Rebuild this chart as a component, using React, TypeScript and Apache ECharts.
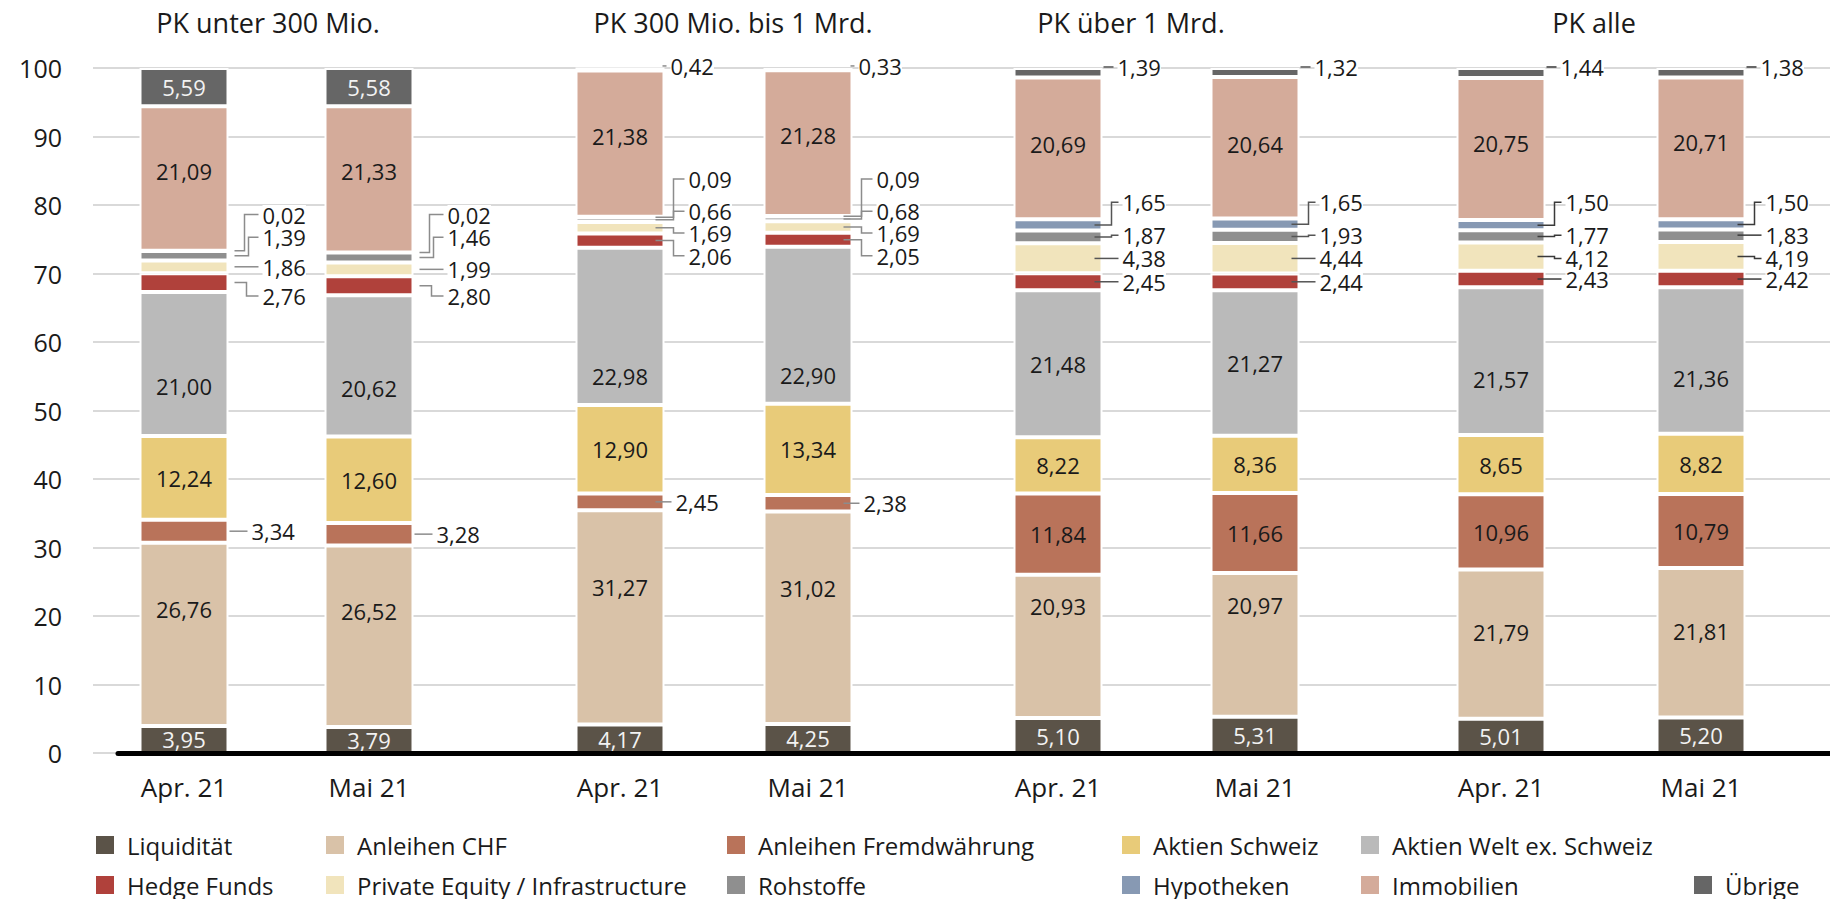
import React, { useEffect, useRef } from 'react';
import * as echarts from 'echarts';

// ---------- data ----------
const groupTitles = ['PK unter 300 Mio.', 'PK 300 Mio. bis 1 Mrd.', 'PK über 1 Mrd.', 'PK alle'];
const months = ['Apr. 21', 'Mai 21'];
const assetClasses = [
  'Liquidität',
  'Anleihen CHF',
  'Anleihen Fremdwährung',
  'Aktien Schweiz',
  'Aktien Welt ex. Schweiz',
  'Hedge Funds',
  'Private Equity / Infrastructure',
  'Rohstoffe',
  'Hypotheken',
  'Immobilien',
  'Übrige',
];
// bar order: group1 Apr, Mai, group2 Apr, Mai, group3 Apr, Mai, group4 Apr, Mai
const liquiditaet = [3.95, 3.79, 4.17, 4.25, 5.1, 5.31, 5.01, 5.2];
const anleihenChf = [26.76, 26.52, 31.27, 31.02, 20.93, 20.97, 21.79, 21.81];
const anleihenFw = [3.34, 3.28, 2.45, 2.38, 11.84, 11.66, 10.96, 10.79];
const aktienSchweiz = [12.24, 12.6, 12.9, 13.34, 8.22, 8.36, 8.65, 8.82];
const aktienWelt = [21.0, 20.62, 22.98, 22.9, 21.48, 21.27, 21.57, 21.36];
const hedgeFunds = [2.76, 2.8, 2.06, 2.05, 2.45, 2.44, 2.43, 2.42];
const privateEquity = [1.86, 1.99, 1.69, 1.69, 4.38, 4.44, 4.12, 4.19];
const rohstoffe = [1.39, 1.46, 0.66, 0.68, 1.87, 1.93, 1.77, 1.83];
const hypotheken = [0.02, 0.02, 0.09, 0.09, 1.65, 1.65, 1.5, 1.5];
const immobilien = [21.09, 21.33, 21.38, 21.28, 20.69, 20.64, 20.75, 20.71];
const uebrige = [5.59, 5.58, 0.42, 0.33, 1.39, 1.32, 1.44, 1.38];
const yMin = 0;
const yMax = 100;
const yInterval = 10;

const seriesValues = [
  liquiditaet, anleihenChf, anleihenFw, aktienSchweiz, aktienWelt,
  hedgeFunds, privateEquity, rohstoffe, hypotheken, immobilien, uebrige,
];

// ---------- styles / layout ----------
const colors = [
  '#5b5348', '#d9c2a8', '#b9735a', '#e8cb79', '#bababa',
  '#b0413b', '#f1e4bc', '#8f8f8f', '#8799b3', '#d4ab9a', '#666666',
];
const labelColors = [
  '#f2f2f2', '#1a1a1a', '#1a1a1a', '#1a1a1a', '#1a1a1a',
  '#1a1a1a', '#1a1a1a', '#1a1a1a', '#1a1a1a', '#1a1a1a', '#f2f2f2',
];
const FONT = '"Open Sans", "Noto Sans", sans-serif';
const TEXT = '#1a1a1a';
const LABEL_SIZE = 22;
const BAR_W = 89;
const GRID_TOP = 68;
const GRID_BOTTOM = 146;
const groupGrids = [
  { left: 91.5, width: 370 },
  { left: 526, width: 376 },
  { left: 959.5, width: 394 },
  { left: 1401, width: 400 },
];
const titleCenters = [268, 733, 1131, 1594];
// vertical pixel offsets for inside labels (per asset class, per bar)
const insideOffsets: Record<number, number[]> = {
  1: [-25, -25, -30, -30, -40, -40, -12, -12],
  4: [22, 22, 50, 50, 0, 0, 18, 18],
  9: [-8, -8, -8, -8, -4, -4, -6, -6],
};
// callout placement: a = asset index, v = label position (axis value, null = at segment middle),
// tx = text offset from bar edge, ex = elbow offset, flat = horizontal line at label height
type Callout = { a: number; v: number | null; tx: number; ex?: number; start?: number; flat?: boolean };
const callouts: { start: number; color: string; items: Callout[] }[] = [
  {
    start: 6, color: '#8c8c8c', items: [
      { a: 2, v: null, tx: 23, start: 1 },
      { a: 5, v: 66.7, tx: 34, ex: 18 },
      { a: 6, v: null, tx: 34 },
      { a: 7, v: 75.3, tx: 34, ex: 20 },
      { a: 8, v: 78.6, tx: 34, ex: 16 },
    ],
  },
  {
    start: -9, color: '#8c8c8c', items: [
      { a: 2, v: null, tx: 11 },
      { a: 5, v: 72.6, tx: 24, ex: 9 },
      { a: 6, v: 75.9, tx: 24, ex: 9 },
      { a: 7, v: 79.1, tx: 24, ex: 9 },
      { a: 8, v: 83.8, tx: 24, ex: 9 },
      { a: 10, v: 100.3, tx: 6, start: -2, flat: true },
    ],
  },
  {
    start: -8, color: '#555555', items: [
      { a: 5, v: null, tx: 20 },
      { a: 6, v: 72.2, tx: 20, ex: 9 },
      { a: 7, v: 75.6, tx: 20, ex: 9 },
      { a: 8, v: 80.4, tx: 20, ex: 9 },
      { a: 10, v: 100.15, tx: 15, start: 1, flat: true },
    ],
  },
  {
    start: -8, color: '#3a3a3a', items: [
      { a: 5, v: null, tx: 20 },
      { a: 6, v: 72.2, tx: 20, ex: 9 },
      { a: 7, v: 75.6, tx: 20, ex: 9 },
      { a: 8, v: 80.4, tx: 20, ex: 9 },
      { a: 10, v: 100.15, tx: 15, start: 1, flat: true },
    ],
  },
];
const legendColumns = [
  { left: 96, items: [0, 5] },
  { left: 326, items: [1, 6] },
  { left: 727, items: [2, 7] },
  { left: 1122, items: [3, 8] },
  { left: 1361, items: [4, 9] },
  { left: 1694, items: [10], row2: true },
];

const fmt = (v: number) => v.toFixed(2).replace('.', ',');

function buildOption() {
  const grids: any[] = [];
  const xAxes: any[] = [];
  const yAxes: any[] = [];
  const series: any[] = [];

  groupGrids.forEach((g, gi) => {
    grids.push({ left: g.left, width: g.width, top: GRID_TOP, bottom: GRID_BOTTOM });
    xAxes.push({
      type: 'category', gridIndex: gi, data: months,
      axisLine: { show: false }, axisTick: { show: false },
      axisLabel: { fontSize: 26, fontFamily: FONT, color: TEXT, margin: 21 },
    });
    yAxes.push({ type: 'value', gridIndex: gi, min: yMin, max: yMax, interval: yInterval, show: false });

    const outsideSet = new Set(callouts[gi].items.map((c) => c.a));
    seriesValues.forEach((vals, a) => {
      const inside = !outsideSet.has(a);
      series.push({
        type: 'bar', name: assetClasses[a], stack: 'g' + gi,
        xAxisIndex: gi, yAxisIndex: gi, barWidth: BAR_W, z: 2,
        itemStyle: { color: colors[a], borderColor: '#ffffff', borderWidth: 2 },
        label: {
          show: inside, position: 'inside', color: labelColors[a],
          fontSize: LABEL_SIZE, fontFamily: FONT,
          formatter: (p: any) => fmt(p.value),
        },
        emphasis: { disabled: true },
        data: vals.slice(gi * 2, gi * 2 + 2).map((v, i) => ({
          value: v,
          label: { offset: [0, insideOffsets[a] ? insideOffsets[a][gi * 2 + i] : 0] },
        })),
      });
    });

    // callout labels with elbow connectors
    const meta: any[] = [];
    const data: any[] = [];
    for (let i = 0; i < 2; i++) {
      const b = gi * 2 + i;
      callouts[gi].items.forEach((c) => {
        let cum = 0;
        for (let k = 0; k < c.a; k++) cum += seriesValues[k][b];
        const mid = cum + seriesValues[c.a][b] / 2;
        data.push([i, mid, c.v == null ? mid : c.v]);
        meta.push({
          text: fmt(seriesValues[c.a][b]),
          tx: c.tx, ex: c.ex ?? 0,
          start: c.start ?? callouts[gi].start,
          straight: c.v == null,
          flat: !!c.flat,
        });
      });
    }
    const lineColor = callouts[gi].color;
    series.push({
      type: 'custom', xAxisIndex: gi, yAxisIndex: gi, z: 5, silent: true,
      data,
      renderItem: (params: any, api: any) => {
        const m = meta[params.dataIndex];
        const p = api.coord([api.value(0), api.value(1)]);
        const pl = api.coord([api.value(0), api.value(2)]);
        const right = p[0] + BAR_W / 2;
        const ty = m.straight ? p[1] : pl[1];
        const sy = m.flat ? ty : p[1];
        const tx = right + m.tx;
        const x0 = right + m.start;
        const points = m.straight || m.flat || Math.abs(ty - sy) < 1
          ? [[x0, ty], [tx - 4, ty]]
          : [[x0, sy], [right + m.ex, sy], [right + m.ex, ty], [tx - 4, ty]];
        return {
          type: 'group',
          children: [
            { type: 'polyline', shape: { points }, style: { stroke: lineColor, lineWidth: 1.5, fill: null } },
            {
              type: 'text',
              style: {
                text: m.text, x: tx, y: ty,
                textAlign: 'left', textVerticalAlign: 'middle',
                fill: TEXT, font: `${LABEL_SIZE}px ${FONT}`,
                backgroundColor: '#ffffff', lineHeight: 19,
              },
            },
          ],
        };
      },
    });
  });

  // background grid: gridlines + y labels
  grids.push({ left: 93, right: 0, top: GRID_TOP, bottom: GRID_BOTTOM });
  xAxes.push({ type: 'value', gridIndex: 4, show: false, min: 0, max: 1 });
  yAxes.push({
    type: 'value', gridIndex: 4, min: yMin, max: yMax, interval: yInterval,
    axisLine: { show: false }, axisTick: { show: false },
    axisLabel: { fontSize: 25, fontFamily: FONT, color: TEXT, margin: 31 },
    splitLine: { show: true, lineStyle: { color: '#d9d9d9', width: 2 } },
    z: 0,
  });
  // baseline
  grids.push({ left: 118, right: 0, top: GRID_TOP, bottom: GRID_BOTTOM });
  xAxes.push({
    type: 'category', gridIndex: 5, data: [''], z: 10,
    axisLine: { show: true, lineStyle: { color: '#000000', width: 5 } },
    axisTick: { show: false }, axisLabel: { show: false },
  });
  yAxes.push({ type: 'value', gridIndex: 5, min: yMin, max: yMax, show: false });

  const legends = legendColumns.map((col) => ({
    orient: 'vertical',
    left: col.left,
    top: col.row2 ? 873 : 833,
    padding: 0,
    itemGap: 16,
    itemWidth: 18,
    itemHeight: 18,
    icon: 'rect',
    selectedMode: false,
    itemStyle: { borderWidth: 0 },
    textStyle: { fontSize: 24, fontFamily: FONT, color: TEXT, lineHeight: 24, padding: [0, 0, 0, 8] },
    data: col.items.map((i) => assetClasses[i]),
  }));

  const titles = groupTitles.map((t, i) => ({
    text: t, left: titleCenters[i], top: 9, textAlign: 'center', padding: 0,
    textStyle: { fontSize: 27, fontWeight: 'normal', fontFamily: FONT, color: TEXT },
  }));

  return {
    animation: false,
    backgroundColor: '#ffffff',
    title: titles,
    legend: legends,
    grid: grids,
    xAxis: xAxes,
    yAxis: yAxes,
    series,
  };
}

export default function App() {
  const ref = useRef<HTMLDivElement>(null);
  useEffect(() => {
    if (!ref.current) return;
    const chart = echarts.init(ref.current, undefined, { renderer: 'svg' });
    chart.setOption(buildOption() as any);
    return () => chart.dispose();
  }, []);
  return (
    <div
      ref={ref}
      style={{ position: 'fixed', left: 0, top: 0, width: 1830, height: 899, background: '#fff' }}
    />
  );
}
